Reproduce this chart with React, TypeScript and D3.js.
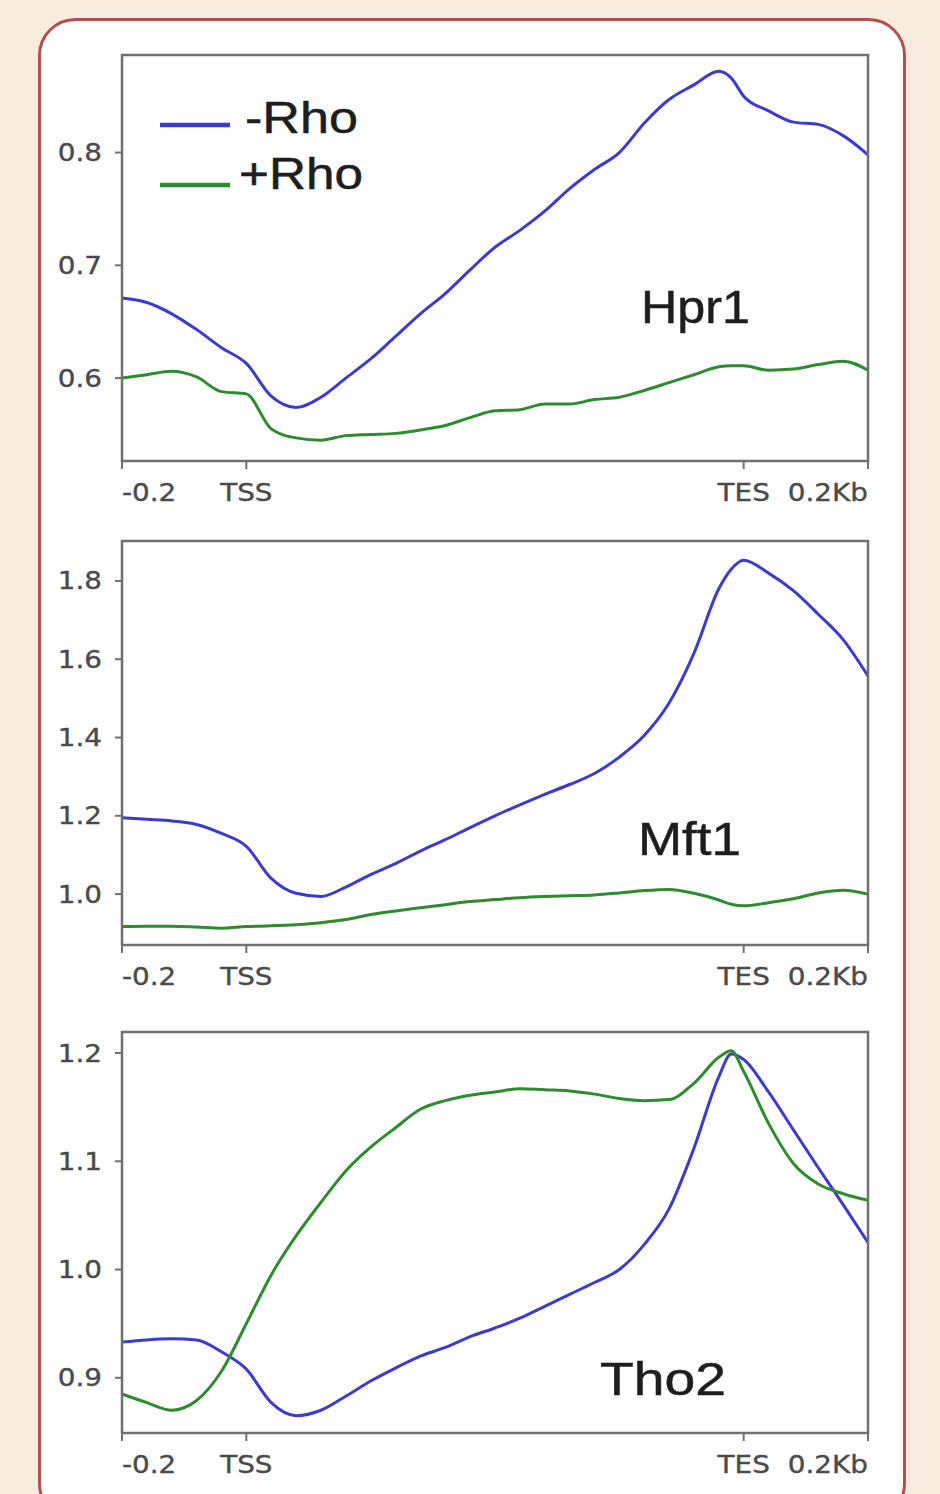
import * as d3 from 'd3';

// bins along the scaled region: 200 bp upstream, 800 bp body, 200 bp downstream
const positions = [
  0, 40, 80, 120, 160, 200, 240, 280, 320, 360, 400, 440, 480, 520, 560, 600,
  640, 680, 720, 760, 800, 840, 880, 920, 960, 980, 1000, 1040, 1080, 1120, 1160, 1200,
];
const xTickValues = [0, 200, 1000, 1200];
const xTickLabels = ['-0.2', 'TSS', 'TES', '0.2Kb'];
const seriesNames = ['-Rho', '+Rho'];
const seriesColors = ['#3b3bcc', '#2e8b2e'];

const hpr1Minus = [
  0.671, 0.667, 0.657, 0.643, 0.627, 0.613, 0.584, 0.574, 0.583, 0.6, 0.617,
  0.637, 0.657, 0.675, 0.696, 0.716, 0.731, 0.748, 0.768, 0.785, 0.8, 0.826,
  0.847, 0.86, 0.872, 0.866, 0.85, 0.837, 0.827, 0.825, 0.815, 0.798,
];
const hpr1Plus = [
  0.6, 0.603, 0.606, 0.601, 0.588, 0.586, 0.555, 0.547, 0.545, 0.549, 0.55,
  0.551, 0.554, 0.558, 0.565, 0.571, 0.572, 0.577, 0.577, 0.581, 0.583, 0.589,
  0.596, 0.603, 0.61, 0.611, 0.611, 0.607, 0.608, 0.612, 0.615, 0.607,
];
const mft1Minus = [
  1.195, 1.191, 1.187, 1.178, 1.155, 1.122, 1.04, 1.002, 0.994, 1.018, 1.05,
  1.078, 1.11, 1.139, 1.17, 1.2, 1.228, 1.255, 1.28, 1.308, 1.35, 1.405, 1.488,
  1.615, 1.78, 1.83, 1.853, 1.82, 1.775, 1.715, 1.65, 1.557,
];
const mft1Plus = [
  0.917, 0.918, 0.918, 0.916, 0.913, 0.917, 0.919, 0.922, 0.927, 0.935, 0.948,
  0.957, 0.965, 0.973, 0.981, 0.986, 0.991, 0.994, 0.996, 0.998, 1.003, 1.009,
  1.012, 1.002, 0.985, 0.974, 0.97, 0.978, 0.988, 1.003, 1.01, 1.0,
];
const tho2Minus = [
  0.933, 0.935, 0.936, 0.935, 0.924, 0.908, 0.877, 0.865, 0.87, 0.883, 0.897,
  0.909, 0.92, 0.928, 0.938, 0.946, 0.955, 0.966, 0.977, 0.988, 1.0, 1.023,
  1.056, 1.112, 1.178, 1.199, 1.194, 1.164, 1.129, 1.094, 1.06, 1.025,
];
const tho2Plus = [
  0.885, 0.877, 0.87, 0.879, 0.906, 0.95, 0.995, 1.031, 1.062, 1.091, 1.113,
  1.131, 1.148, 1.156, 1.161, 1.164, 1.167, 1.166, 1.165, 1.162, 1.158, 1.156,
  1.157, 1.172, 1.196, 1.202, 1.183, 1.135, 1.098, 1.079, 1.07, 1.064,
];

const hpr1Ticks = [0.6, 0.7, 0.8];
const mft1Ticks = [1.0, 1.2, 1.4, 1.6, 1.8];
const tho2Ticks = [0.9, 1.0, 1.1, 1.2];

const panels = [
  { name: 'Hpr1', series: [hpr1Minus, hpr1Plus], ticks: hpr1Ticks, domain: [0.5265, 0.8865], top: 55, bottom: 461, label: { x: 641, y: 323, w: 109 }, legend: true },
  { name: 'Mft1', series: [mft1Minus, mft1Plus], ticks: mft1Ticks, domain: [0.87, 1.902], top: 541, bottom: 945, label: { x: 638, y: 855, w: 103 }, legend: false },
  { name: 'Tho2', series: [tho2Minus, tho2Plus], ticks: tho2Ticks, domain: [0.849, 1.2194], top: 1032, bottom: 1433, label: { x: 600, y: 1395, w: 126 }, legend: false },
];

const left = 122;
const right = 868;
const tickFont = '"DejaVu Sans", sans-serif';
const labelFont = '"Liberation Sans", Arial, sans-serif';
const tickColor = '#4a4a4a';
const stretch = 1.16; // tick labels in the figure are a little wider than DejaVu

const x = d3.scaleLinear().domain([0, 1200]).range([left, right]);

function TickText({ tx, ty, anchor, children }: { tx: number; ty: number; anchor: string; children: string }) {
  return (
    <g transform={`translate(${tx},${ty}) scale(${stretch},1)`}>
      <text textAnchor={anchor} fontFamily={tickFont} fontSize={24} fill={tickColor} stroke={tickColor} strokeWidth={0.35}>
        {children}
      </text>
    </g>
  );
}

function Panel({ p }: { p: (typeof panels)[number] }) {
  const y = d3.scaleLinear().domain(p.domain).range([p.bottom, p.top]);
  const line = d3
    .line<number>()
    .x((_, i) => x(positions[i]))
    .y((d) => y(d))
    .curve(d3.curveMonotoneX);

  return (
    <g>
      {p.series.map((s, i) => (
        <path key={i} d={line(s) || ''} fill="none" stroke={seriesColors[i]} strokeWidth={3} strokeLinejoin="round" />
      ))}
      <rect x={left} y={p.top} width={right - left} height={p.bottom - p.top} fill="none" stroke="#707070" strokeWidth={2.5} />

      {/* y axis */}
      {p.ticks.map((t) => (
        <g key={t}>
          <line x1={left - 7} x2={left} y1={y(t)} y2={y(t)} stroke="#707070" strokeWidth={2} />
          <TickText tx={left - 20} ty={y(t) + 8.5} anchor="end">
            {t.toFixed(1)}
          </TickText>
        </g>
      ))}

      {/* x axis */}
      {xTickValues.map((t, i) => (
        <g key={t}>
          <line x1={x(t)} x2={x(t)} y1={p.bottom} y2={p.bottom + 8} stroke="#707070" strokeWidth={2} />
          <TickText
            tx={x(t)}
            ty={p.bottom + 40}
            anchor={i === 0 ? 'start' : i === xTickValues.length - 1 ? 'end' : 'middle'}
          >
            {xTickLabels[i]}
          </TickText>
        </g>
      ))}

      <text x={p.label.x} y={p.label.y} fontFamily={labelFont} fontSize={46} fill="#1e1e1e" stroke="#1e1e1e" strokeWidth={0.5} textLength={p.label.w} lengthAdjust="spacingAndGlyphs">
        {p.name}
      </text>

      {p.legend && (
        <g>
          <line x1={160} x2={230} y1={125} y2={125} stroke={seriesColors[0]} strokeWidth={4.5} />
          <text x={245} y={133} fontFamily={labelFont} fontSize={44} fill="#1e1e1e" stroke="#1e1e1e" strokeWidth={0.5} textLength={113} lengthAdjust="spacingAndGlyphs">
            {seriesNames[0]}
          </text>
          <line x1={160} x2={230} y1={185} y2={185} stroke={seriesColors[1]} strokeWidth={4.5} />
          <text x={239} y={188.5} fontFamily={labelFont} fontSize={44} fill="#1e1e1e" stroke="#1e1e1e" strokeWidth={0.5} textLength={124} lengthAdjust="spacingAndGlyphs">
            {seriesNames[1]}
          </text>
        </g>
      )}
    </g>
  );
}

export default function App() {
  return (
    <div style={{ position: 'absolute', left: 0, top: 0 }}>
      <svg width={940} height={1494} style={{ display: 'block' }}>
        <rect width={940} height={1494} fill="#f8ecde" />
        <rect x={39.5} y={19.5} width={865} height={1500} rx={36} ry={36} fill="#ffffff" stroke="#b24f4f" strokeWidth={3} />
        {panels.map((p) => (
          <Panel key={p.name} p={p} />
        ))}
      </svg>
    </div>
  );
}
